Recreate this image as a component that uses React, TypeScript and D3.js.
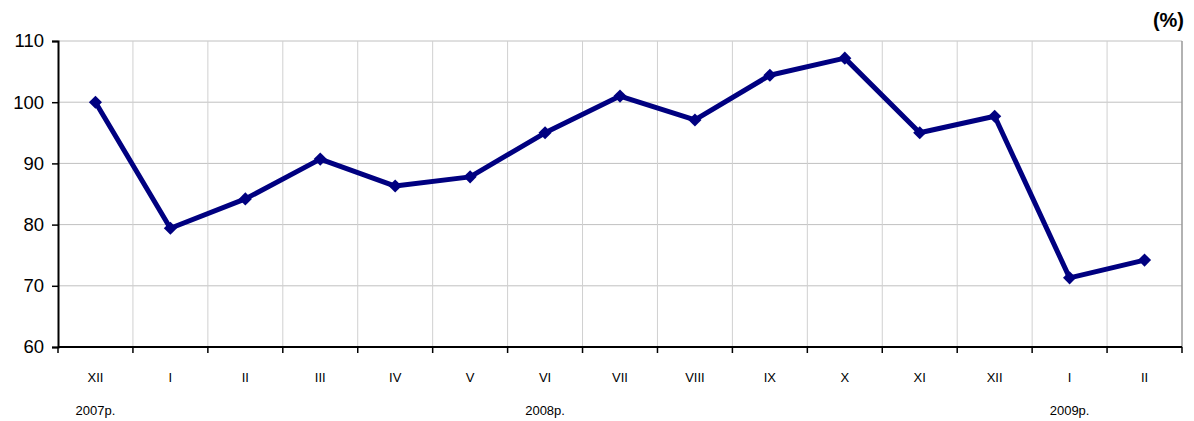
import React, { useEffect, useRef } from 'react';
import * as d3 from 'd3';

const months = ['XII', 'I', 'II', 'III', 'IV', 'V', 'VI', 'VII', 'VIII', 'IX', 'X', 'XI', 'XII', 'I', 'II'];
const values = [100.0, 79.4, 84.2, 90.7, 86.3, 87.8, 95.0, 101.0, 97.1, 104.4, 107.2, 95.0, 97.7, 71.3, 74.2];
// year label sits under the month with this index
const yearLabels = [
  { idx: 0, text: '2007р.' },
  { idx: 6, text: '2008р.' },
  { idx: 13, text: '2009р.' },
];
const yTicks = [60, 70, 80, 90, 100, 110];

const W = 1194;
const H = 421;

const App: React.FC = () => {
  const svgRef = useRef<SVGSVGElement | null>(null);

  useEffect(() => {
    if (!svgRef.current) return;
    const svg = d3.select(svgRef.current);
    svg.selectAll('*').remove();

    const margin = { top: 41, right: 12, bottom: 74, left: 58 };
    const innerW = W - margin.left - margin.right;
    const innerH = H - margin.top - margin.bottom;

    const keys = months.map((_, i) => String(i));
    const x = d3.scaleBand().domain(keys).range([0, innerW]).padding(0);
    const y = d3.scaleLinear().domain([60, 110]).range([innerH, 0]);

    const g = svg.append('g').attr('transform', `translate(${margin.left},${margin.top})`);
    const font = 'Liberation Sans, Arial, sans-serif';

    // horizontal grid
    g.append('g')
      .selectAll('line')
      .data(yTicks.filter(t => t > 60))
      .enter().append('line')
        .attr('x1', 0).attr('x2', innerW)
        .attr('y1', d => y(d)).attr('y2', d => y(d))
        .attr('stroke', '#c0c0c0').attr('stroke-width', 1);

    // vertical grid at category boundaries
    g.append('g')
      .selectAll('line')
      .data(keys.slice(1))
      .enter().append('line')
        .attr('x1', d => x(d) || 0).attr('x2', d => x(d) || 0)
        .attr('y1', 0).attr('y2', innerH)
        .attr('stroke', '#d0d0d0').attr('stroke-width', 1);

    // right border
    g.append('line')
      .attr('x1', innerW).attr('x2', innerW)
      .attr('y1', 0).attr('y2', innerH)
      .attr('stroke', '#999').attr('stroke-width', 1.5);

    // y axis
    const yAxis = g.append('g')
      .call(d3.axisLeft(y).tickValues(yTicks).tickSize(6).tickPadding(8));
    yAxis.select('.domain').attr('stroke', '#000').attr('stroke-width', 2);
    yAxis.selectAll('.tick line').attr('stroke', '#000').attr('stroke-width', 1.5);
    yAxis.selectAll('text')
      .attr('font-family', font)
      .attr('font-size', 18.5)
      .attr('fill', '#000');

    // x axis: ticks at boundaries
    g.append('line')
      .attr('x1', 0).attr('x2', innerW)
      .attr('y1', innerH).attr('y2', innerH)
      .attr('stroke', '#000').attr('stroke-width', 2);
    g.append('g')
      .selectAll('line')
      .data(keys)
      .enter().append('line')
        .attr('x1', d => x(d) || 0).attr('x2', d => x(d) || 0)
        .attr('y1', innerH).attr('y2', innerH + 6)
        .attr('stroke', '#000').attr('stroke-width', 1.5);
    g.append('line')
      .attr('x1', innerW).attr('x2', innerW)
      .attr('y1', innerH).attr('y2', innerH + 6)
      .attr('stroke', '#000').attr('stroke-width', 1.5);

    const cx = (i: number) => (x(String(i)) || 0) + x.bandwidth() / 2;

    // month labels
    g.append('g')
      .selectAll('text')
      .data(months)
      .enter().append('text')
        .attr('x', (_, i) => cx(i))
        .attr('y', innerH + 35)
        .attr('text-anchor', 'middle')
        .attr('font-family', font)
        .attr('font-size', 13)
        .attr('fill', '#000')
        .text(d => d);

    // year labels
    g.append('g')
      .selectAll('text')
      .data(yearLabels)
      .enter().append('text')
        .attr('x', d => cx(d.idx))
        .attr('y', innerH + 68)
        .attr('text-anchor', 'middle')
        .attr('font-family', font)
        .attr('font-size', 13)
        .attr('fill', '#000')
        .text(d => d.text);

    // line
    const line = d3.line<number>()
      .x((_, i) => cx(i))
      .y(d => y(d));
    g.append('path')
      .datum(values)
      .attr('d', line)
      .attr('fill', 'none')
      .attr('stroke', '#000080')
      .attr('stroke-width', 5)
      .attr('stroke-linejoin', 'round');

    // diamond markers
    const diamond = d3.symbol().type(d3.symbolDiamond2).size(110);
    g.append('g')
      .selectAll('path')
      .data(values)
      .enter().append('path')
        .attr('d', diamond)
        .attr('transform', (d, i) => `translate(${cx(i)},${y(d)})`)
        .attr('fill', '#000080');

    // unit label
    svg.append('text')
      .attr('x', W - 10)
      .attr('y', 27)
      .attr('text-anchor', 'end')
      .attr('font-family', font)
      .attr('font-weight', 'bold')
      .attr('font-size', 20)
      .attr('fill', '#000')
      .text('(%)');
  }, []);

  return (
    <svg
      ref={svgRef}
      width={W}
      height={H}
      style={{ position: 'absolute', left: 0, top: 0, background: '#fff' }}
    />
  );
};

export default App;
